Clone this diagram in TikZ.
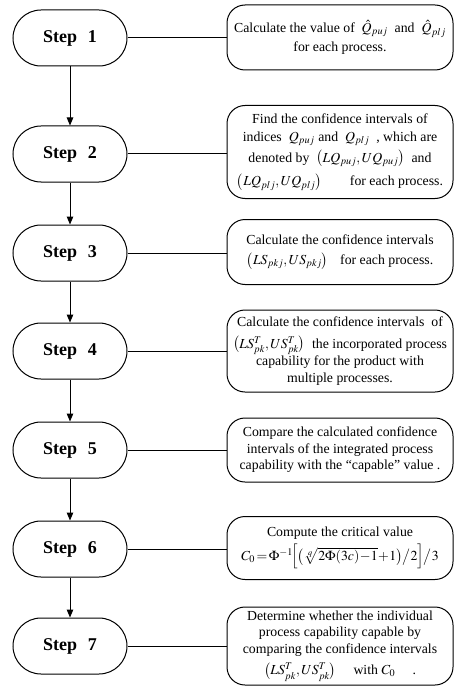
\documentclass[tikz,border=0pt]{standalone}
\usepackage{mathptmx}
\usepackage{fontspec}
\setmainfont{Liberation Serif}
\usetikzlibrary{arrows.meta,positioning}
\tikzset{
  stepnode/.style={draw, line width=1pt, rounded corners=28pt, minimum width=114pt, minimum height=56pt, font=\fontsize{18}{20}\selectfont\bfseries},
  infonode/.style={draw, line width=1pt, rounded corners=18pt, minimum width=226pt, align=center, inner sep=2pt, font=\fontsize{13.8}{16.5}\selectfont},
  flow/.style={line width=1pt, -{Triangle[length=8pt,width=6.5pt]}},
  link/.style={line width=1pt}
}
\newcommand\stepname[1]{Step\hspace{0.6em}#1}

\begin{document}
\begin{tikzpicture}[x=1pt,y=-1pt]
    \useasboundingbox (0,0) rectangle (454,687);
    % steps
    \node[stepnode] (s1) at (70,38) {\stepname{1}};
    \node[stepnode] (s2) at (70,154) {\stepname{2}};
    \node[stepnode] (s3) at (70,253) {\stepname{3}};
    \node[stepnode] (s4) at (70,351) {\stepname{4}};
    \node[stepnode] (s5) at (70,450) {\stepname{5}};
    \node[stepnode] (s6) at (70,549) {\stepname{6}};
    \node[stepnode] (s7) at (70,646) {\stepname{7}};
    % descriptions
    \node[infonode, minimum height=65pt] (d1) at (340,37.5)
      {Calculate the value of \ $\hat{Q}_{puj}$ \ and \ $\hat{Q}_{plj}$\\[2pt] for each process.};
    \node[infonode, minimum height=93pt] (d2) at (340,152)
      {Find the confidence intervals of\\[2pt] indices \ $Q_{puj}$ and \ $Q_{plj}$ \ , which are\\[4pt]
       denoted by \ $\bigl(LQ_{puj},UQ_{puj}\bigr)$ \ and\\[6pt]
       $\bigl(LQ_{plj},UQ_{plj}\bigr)$\hspace{28pt}for each process.};
    \node[infonode, minimum height=65pt] (d3) at (340,252)
      {Calculate the confidence intervals\\[3pt] $\bigl(LS_{pkj},US_{pkj}\bigr)$\hspace{12pt}for each process.};
    \node[infonode, minimum height=82pt] (d4) at (340,351)
      {Calculate the confidence intervals \ of\\[5pt] $\bigl(LS^T_{pk},US^T_{pk}\bigr)$ \ the incorporated process\\[1pt]
       capability for the product with\\ multiple processes.};
    \node[infonode, minimum height=64pt] (d5) at (340,450)
      {Compare the calculated confidence\\ intervals of the integrated process\\ capability with the ``capable'' value .};
    \node[infonode, minimum height=63pt] (d6) at (340,548)
      {Compute the critical value\\[4pt]
       $C_0\!=\!\Phi^{-1}\!\Bigl[\bigl(\sqrt[q]{2\Phi(3c)\!-\!1}\!+\!1\bigr)\big/2\Bigr]\big/3$};
    \node[infonode, minimum height=78pt] (d7) at (340,646)
      {Determine whether the individual\\ process capability capable by\\ comparing the confidence intervals\\[5pt]
       $\bigl(LS^T_{pk},US^T_{pk}\bigr)$ \quad with $C_0$ \quad .};
    % arrows down
    \draw[flow] (s1) -- (s2);
    \draw[flow] (s2) -- (s3);
    \draw[flow] (s3) -- (s4);
    \draw[flow] (s4) -- (s5);
    \draw[flow] (s5) -- (s6);
    \draw[flow] (s6) -- (s7);
    % links to the right
    \draw[link] (s1.east) -- (s1.east -| d1.west);
    \draw[link] (s2.east) -- (s2.east -| d2.west);
    \draw[link] (s3.east) -- (s3.east -| d3.west);
    \draw[link] (s4.east) -- (s4.east -| d4.west);
    \draw[link] (s5.east) -- (s5.east -| d5.west);
    \draw[link] (s6.east) -- (s6.east -| d6.west);
    \draw[link] (s7.east) -- (s7.east -| d7.west);
\end{tikzpicture}
\end{document}
